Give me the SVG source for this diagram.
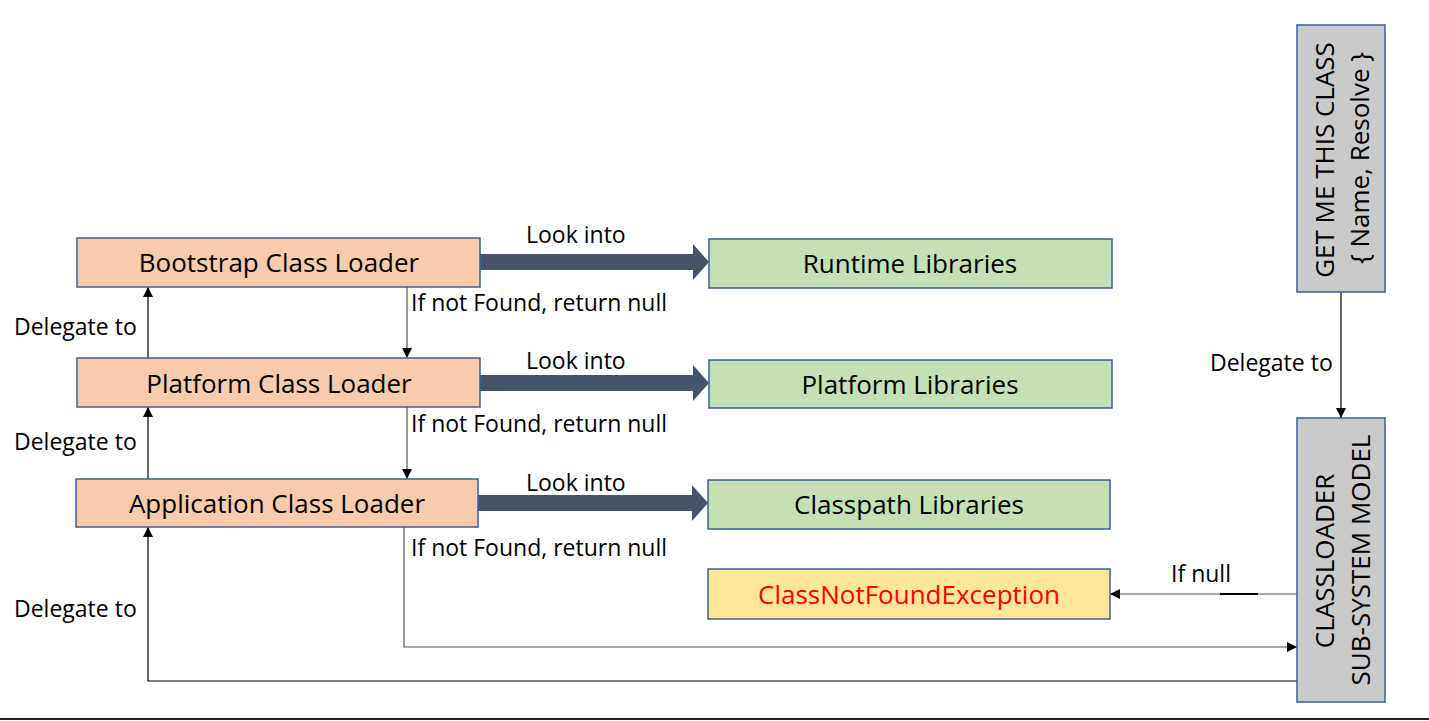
<svg xmlns="http://www.w3.org/2000/svg" width="1429" height="721" viewBox="0 0 1429 721">
<defs>
<style>
.box{stroke:#3A5F9A;stroke-width:1.5}
.peach{fill:#F8CBAD}
.green{fill:#C5E0B4}
.yellow{fill:#FFE699}
.gray{fill:#CACACA}
.t{font-family:"Open Sans","Noto Sans",sans-serif;fill:#000}
.bt{font-size:26px;text-anchor:middle}
.lbl{font-size:23px}
.ln{fill:none;stroke:#000;stroke-width:1.2}
.lg{fill:none;stroke:#555;stroke-width:1.2}
</style>
<marker id="ah" viewBox="0 0 10 10" refX="10" refY="5" markerWidth="10" markerHeight="10" markerUnits="userSpaceOnUse" orient="auto">
<path d="M0,0 L10,5 L0,10 z" fill="#000"/>
</marker>
</defs>
<rect width="1429" height="721" fill="#fff"/>
<g id="connectors">
<path d="M480,254 H693 V244 L709,262 L693,280 V270 H480 z" fill="#44546A"/>
<path d="M480,375 H693 V365 L709,383 L693,401 V391 H480 z" fill="#44546A"/>
<path d="M478,495 H692 V485 L708,503 L692,521 V511 H478 z" fill="#44546A"/>
<line class="ln" x1="148" y1="358" x2="148" y2="287" marker-end="url(#ah)"/>
<line class="ln" x1="148" y1="479" x2="148" y2="407" marker-end="url(#ah)"/>
<polyline class="ln" points="1297,681 148,681 148,527" marker-end="url(#ah)"/>
<line class="lg" x1="407" y1="287" x2="407" y2="358" marker-end="url(#ah)"/>
<line class="lg" x1="407" y1="407" x2="407" y2="479" marker-end="url(#ah)"/>
<polyline class="lg" points="404,527 404,647 1297,647" marker-end="url(#ah)"/>
<line class="ln" x1="1341" y1="292" x2="1341" y2="418" marker-end="url(#ah)"/>
<line class="lg" x1="1297" y1="594" x2="1110" y2="594" marker-end="url(#ah)"/>
<line x1="1220" y1="594" x2="1258" y2="594" stroke="#000" stroke-width="1.8"/>
<text class="t lbl" x="526" y="243">Look into</text>
<text class="t lbl" x="526" y="369">Look into</text>
<text class="t lbl" x="526" y="491">Look into</text>
<text class="t lbl" x="411" y="311">If not Found, return null</text>
<text class="t lbl" x="411" y="432">If not Found, return null</text>
<text class="t lbl" x="411" y="556">If not Found, return null</text>
<text class="t lbl" x="14" y="335">Delegate to</text>
<text class="t lbl" x="14" y="450">Delegate to</text>
<text class="t lbl" x="14" y="617">Delegate to</text>
<text class="t lbl" x="1210" y="371">Delegate to</text>
<text class="t lbl" x="1171" y="582">If null</text>
</g>
<g id="bootstrap">
<rect class="box peach" x="77" y="238" width="403" height="49"/>
<text class="t bt" x="279" y="272">Bootstrap Class Loader</text>
</g>
<g id="platform">
<rect class="box peach" x="77" y="358" width="403" height="49"/>
<text class="t bt" x="279" y="393">Platform Class Loader</text>
</g>
<g id="application">
<rect class="box peach" x="76" y="479" width="402" height="48"/>
<text class="t bt" x="277" y="513">Application Class Loader</text>
</g>
<g id="runtime">
<rect class="box green" x="709" y="239" width="403" height="49"/>
<text class="t bt" x="910" y="273">Runtime Libraries</text>
</g>
<g id="platformlibs">
<rect class="box green" x="709" y="360" width="403" height="48"/>
<text class="t bt" x="910" y="394">Platform Libraries</text>
</g>
<g id="classpath">
<rect class="box green" x="708" y="480" width="402" height="49"/>
<text class="t bt" x="909" y="514">Classpath Libraries</text>
</g>
<g id="cnfe">
<rect class="box yellow" x="708" y="569" width="402" height="50"/>
<text class="t bt" x="909" y="604" style="fill:#FF0000">ClassNotFoundException</text>
</g>
<g id="getclass">
<rect class="box gray" x="1297" y="25" width="88" height="267"/>
<text class="t bt" transform="translate(1334,160) rotate(-90)">GET ME THIS CLASS</text>
<text class="t bt" transform="translate(1369,158) rotate(-90)">{ Name, Resolve }</text>
</g>
<g id="subsystem">
<rect class="box gray" x="1297" y="418" width="88" height="284"/>
<text class="t bt" transform="translate(1334,561) rotate(-90)">CLASSLOADER</text>
<text class="t bt" transform="translate(1370,560) rotate(-90)">SUB-SYSTEM MODEL</text>
</g>
<line x1="0" y1="719" x2="1429" y2="719" stroke="#222" stroke-width="2"/>
</svg>
